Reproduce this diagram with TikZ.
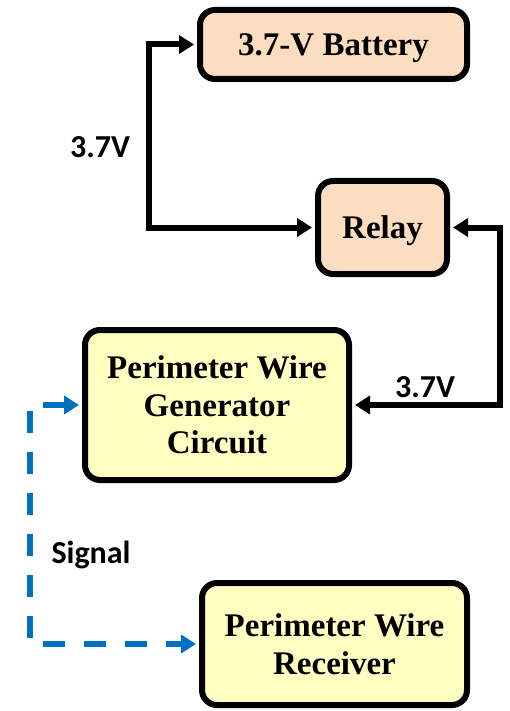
\documentclass[tikz,border=0pt]{standalone}
\usepackage{fontspec}
\setmainfont{Liberation Serif}
\newfontfamily\lblfont{Carlito}
\usetikzlibrary{arrows.meta}
\definecolor{peach}{HTML}{FCDDBF}
\definecolor{paleyellow}{HTML}{FFFFC2}
\definecolor{sigblue}{HTML}{0070C0}
\tikzset{
  blockbox/.style={draw=black, line width=6pt, rounded corners=15pt, align=center,
    font=\fontsize{33}{37.5}\selectfont\bfseries, inner sep=0pt, text depth=-3pt},
  peachbox/.style={blockbox, fill=peach},
  yellowbox/.style={blockbox, fill=paleyellow},
  wire/.style={draw=black, line width=6pt, shorten <=3pt, shorten >=3pt,
    {Triangle[length=15pt,width=18pt]}-{Triangle[length=15pt,width=18pt]}},
  sigwire/.style={draw=sigblue, line width=6pt, dash pattern=on 22pt off 19pt,
    shorten <=3pt, shorten >=3pt,
    {Triangle[length=15pt,width=18pt]}-{Triangle[length=15pt,width=18pt]}},
  lbl/.style={font=\lblfont\fontsize{32}{35}\selectfont\bfseries, inner sep=0pt}
}
\begin{document}
\begin{tikzpicture}[x=1pt,y=-1pt]
\useasboundingbox (0,0) rectangle (509,711);
\node[peachbox, minimum width=267pt, minimum height=69pt] (bat) at (333.5,44.5) {3.7-V Battery};
\node[peachbox, minimum width=129pt, minimum height=93pt] (relay) at (382.5,227.5) {Relay};
\node[yellowbox, minimum width=264pt, minimum height=150pt] (gen) at (217,405) {Perimeter Wire\\Generator\\Circuit};
\node[yellowbox, minimum width=265pt, minimum height=122pt] (rec) at (334.5,644) {Perimeter Wire\\Receiver};
\draw[wire] (bat.west) -- ++(-48,0) |- (relay.west);
\draw[wire] (relay.east) -- ++(50,0) |- (gen.east);
\draw[sigwire] (gen.west) -- ++(-52,0) |- (rec.west);
\node[lbl] (v1) at (100,147) {3.7V};
\node[lbl] (v2) at (425,387) {3.7V};
\node[lbl] (sig) at (91,555) {Signal};
\end{tikzpicture}
\end{document}
